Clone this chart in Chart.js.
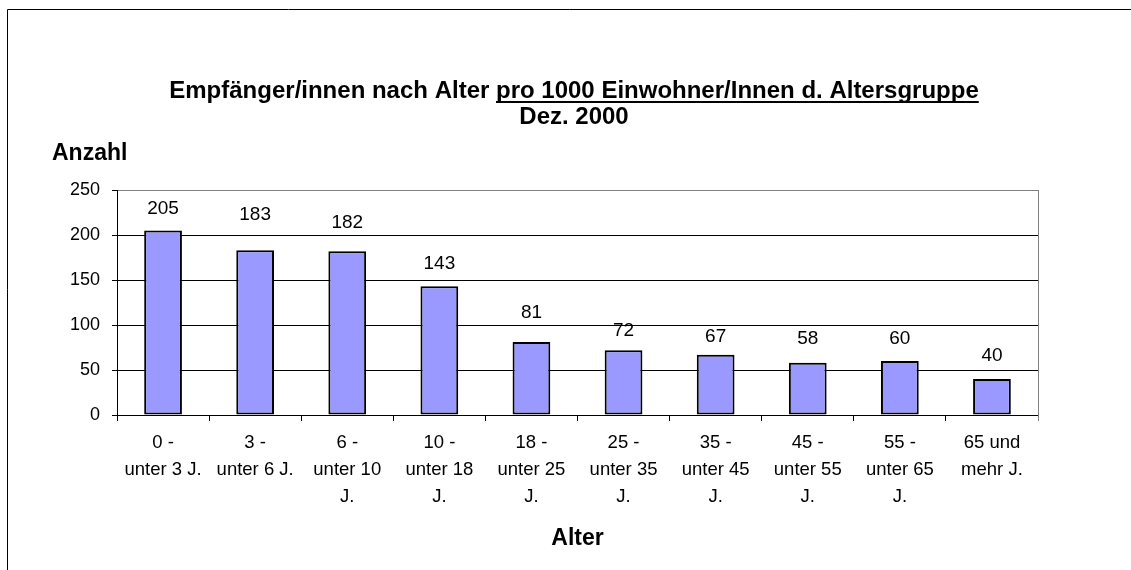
<!DOCTYPE html>
<html lang="de">
<head>
    <meta charset="UTF-8">
    <title>Empfänger/innen nach Alter</title>
    <script src="https://cdn.jsdelivr.net/npm/chart.js"></script>
    <style>
        body { margin: 0; background: #fff; }
        canvas { display: block; }
    </style>
</head>
<body>
    <canvas id="alterChart" width="1131" height="570"></canvas>

    <script>
        // Daten
        var altersgruppen = [
            ['0 -', 'unter 3 J.'],
            ['3 -', 'unter 6 J.'],
            ['6 -', 'unter 10', 'J.'],
            ['10 -', 'unter 18', 'J.'],
            ['18 -', 'unter 25', 'J.'],
            ['25 -', 'unter 35', 'J.'],
            ['35 -', 'unter 45', 'J.'],
            ['45 -', 'unter 55', 'J.'],
            ['55 -', 'unter 65', 'J.'],
            ['65 und', 'mehr J.']
        ];
        var anzahl = [205, 183, 182, 143, 81, 72, 67, 58, 60, 40];
        var yTicks = [0, 50, 100, 150, 200, 250];

        var titelTeil1 = 'Empfänger/innen nach Alter ';
        var titelTeil2 = 'pro 1000 Einwohner/Innen d. Altersgruppe';
        var titelZeile2 = 'Dez. 2000';
        var yTitel = 'Anzahl';
        var xTitel = 'Alter';

        // Abstand der Wertbeschriftung über dem Balken (px), wie im Original
        var labelAbstand = [22, 36, 28, 23, 29, 19, 18, 24, 22, 23];

        var schrift = '"Liberation Sans", Arial, sans-serif';

        // Rahmen, Titel und Werte über den Balken
        var textePlugin = {
            id: 'texte',
            beforeDraw: function (chart) {
                var c = chart.ctx;
                c.save();
                c.strokeStyle = '#000';
                c.lineWidth = 1;
                c.beginPath();
                c.moveTo(7.5, 570);
                c.lineTo(7.5, 9.5);
                c.lineTo(1131, 9.5);
                c.stroke();
                c.restore();
            },
            afterDraw: function (chart) {
                var c = chart.ctx;
                var a = chart.chartArea;
                c.save();

                // rechter Rand der Zeichenfläche
                c.strokeStyle = '#808080';
                c.lineWidth = 1;
                c.beginPath();
                c.moveTo(a.right + 0.5, a.top);
                c.lineTo(a.right + 0.5, a.bottom + 6);
                c.stroke();

                c.fillStyle = '#000';
                c.textBaseline = 'alphabetic';

                // Titel (zweiter Teil unterstrichen)
                c.font = 'bold 24px ' + schrift;
                var w1 = c.measureText(titelTeil1).width;
                var w2 = c.measureText(titelTeil2).width;
                var mitte = 574;
                var x0 = mitte - (w1 + w2) / 2;
                c.textAlign = 'left';
                c.fillText(titelTeil1, x0, 98);
                c.fillText(titelTeil2, x0 + w1, 98);
                c.fillRect(x0 + w1, 101, w2, 2);
                c.textAlign = 'center';
                c.fillText(titelZeile2, mitte, 124);

                // Achsentitel
                c.font = 'bold 23px ' + schrift;
                c.textAlign = 'left';
                c.fillText(yTitel, 52, 160);
                c.textAlign = 'center';
                c.fillText(xTitel, (a.left + a.right) / 2, 545);

                // Werte über den Balken
                c.font = '19px ' + schrift;
                c.textBaseline = 'middle';
                var meta = chart.getDatasetMeta(0);
                meta.data.forEach(function (bar, i) {
                    c.fillText(String(anzahl[i]), bar.x, bar.y - labelAbstand[i]);
                });

                c.restore();
            }
        };

        var ctx = document.getElementById('alterChart').getContext('2d');
        var alterChart = new Chart(ctx, {
            type: 'bar',
            data: {
                labels: altersgruppen,
                datasets: [{
                    data: anzahl,
                    backgroundColor: '#9999FF',
                    borderColor: '#000',
                    borderWidth: 2,
                    borderSkipped: false,
                    barPercentage: 0.41,
                    categoryPercentage: 1.0
                }]
            },
            options: {
                responsive: false,
                animation: false,
                devicePixelRatio: 1,
                layout: {
                    padding: { left: 0, top: 190, right: 93, bottom: 0 }
                },
                plugins: {
                    legend: { display: false },
                    tooltip: { enabled: false }
                },
                scales: {
                    x: {
                        offset: true,
                        grid: {
                            offset: true,
                            drawOnChartArea: false,
                            drawTicks: true,
                            tickLength: 6,
                            color: '#000',
                            tickColor: '#000'
                        },
                        border: { color: '#000', width: 1 },
                        ticks: {
                            color: '#000',
                            padding: 8,
                            maxRotation: 0,
                            autoSkip: false,
                            font: { family: schrift, size: 18.5, lineHeight: 1.46 }
                        },
                        afterFit: function (scale) { scale.height = 155; }
                    },
                    y: {
                        min: 0,
                        max: 250,
                        afterBuildTicks: function (scale) {
                            scale.ticks = yTicks.map(function (v) { return { value: v }; });
                        },
                        grid: {
                            color: function (context) {
                                return context.tick && context.tick.value === 250 ? '#808080' : '#000';
                            },
                            tickColor: '#000',
                            tickLength: 5,
                            lineWidth: 1
                        },
                        border: { color: '#000', width: 1 },
                        ticks: {
                            color: '#000',
                            padding: 12,
                            font: { family: schrift, size: 18 }
                        },
                        afterFit: function (scale) { scale.width = 117; }
                    }
                }
            },
            plugins: [textePlugin]
        });
    </script>
</body>
</html>
